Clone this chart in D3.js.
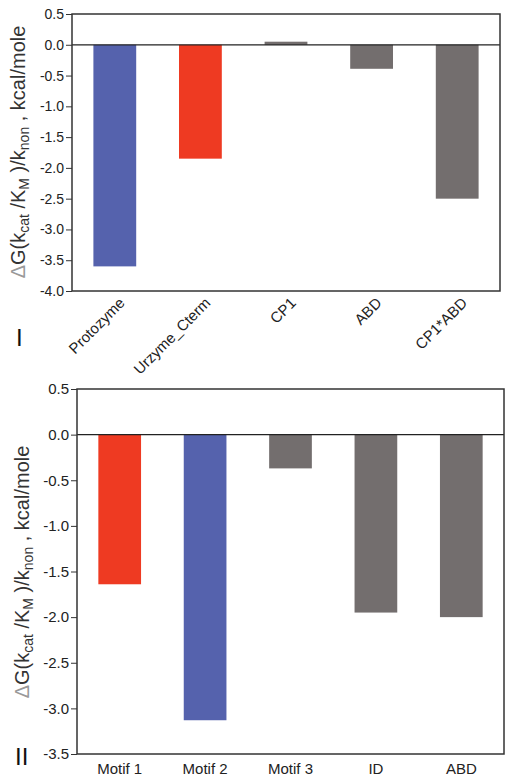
<!DOCTYPE html>
<html><head><meta charset="utf-8">
<script src="https://cdn.jsdelivr.net/npm/d3@7"></script>
<style>body{margin:0;background:#fff}svg{display:block}</style>
</head><body>
<script>
const categoriesA = ["Protozyme","Urzyme_Cterm","CP1","ABD","CP1*ABD"];
const valuesA = [-3.6,-1.85,0.05,-0.39,-2.5];
const colorsA = ["#5562ad","#ee3a22","#736e6e","#736e6e","#736e6e"];
const ticksA = [0.5,0.0,-0.5,-1.0,-1.5,-2.0,-2.5,-3.0,-3.5,-4.0];

const categoriesB = ["Motif 1","Motif 2","Motif 3","ID","ABD"];
const valuesB = [-1.64,-3.13,-0.37,-1.95,-2.0];
const colorsB = ["#ee3a22","#5562ad","#736e6e","#736e6e","#736e6e"];
const ticksB = [0.5,0.0,-0.5,-1.0,-1.5,-2.0,-2.5,-3.0,-3.5];

const svg = d3.select("body").append("svg").attr("width",512).attr("height",777)
  .style("font-family","Arial, 'Liberation Sans', sans-serif");

function panel(opt){
  const g = svg.append("g");
  const x = d3.scaleBand().domain(opt.cats).range([opt.left,opt.right]).paddingInner(0.5).paddingOuter(0.25);
  const y = d3.scaleLinear().domain([opt.ticks[opt.ticks.length-1], opt.ticks[0]]).range([opt.bottom,opt.top]);
  g.selectAll("rect.bar").data(opt.vals).join("rect")
    .attr("x",(d,i)=>x(opt.cats[i])).attr("width",x.bandwidth())
    .attr("y",d=>y(Math.max(0,d))).attr("height",d=>Math.abs(y(d)-y(0)))
    .attr("fill",(d,i)=>opt.colors[i]);
  g.append("line").attr("x1",opt.left).attr("x2",opt.right).attr("y1",y(0)).attr("y2",y(0))
    .attr("stroke","#222").attr("stroke-width",1.3);
  g.append("rect").attr("x",opt.left).attr("y",opt.top).attr("width",opt.right-opt.left).attr("height",opt.bottom-opt.top)
    .attr("fill","none").attr("stroke","#333").attr("stroke-width",1.5);
  const ya = g.append("g").attr("transform",`translate(${opt.left},0)`)
    .call(d3.axisLeft(y).tickValues(opt.ticks).tickFormat(d3.format(".1f")).tickSize(6).tickPadding(2));
  ya.select(".domain").remove();
  ya.selectAll("line").attr("stroke","#333").attr("stroke-width",1);
  ya.selectAll("text").attr("font-size",opt.tickFont).attr("fill","#222").attr("font-family","Arial, 'Liberation Sans', sans-serif")
    .text(d=>d3.format(".1f")(d).replace("−","-"));
  const xa = g.append("g");
  opt.cats.forEach((c,i)=>{
    const cx = x(c)+x.bandwidth()/2;
    if(opt.rotate){
      xa.append("text").attr("transform",`translate(${cx+3},${opt.bottom+5}) rotate(-45)`)
        .attr("text-anchor","end").attr("dy","0.75em").attr("font-size",15).attr("fill","#222").text(c);
    } else {
      xa.append("text").attr("x",cx).attr("y",opt.bottom+20).attr("text-anchor","middle")
        .attr("font-size",15).attr("fill","#222").text(c);
    }
  });
  const t = g.append("text").attr("transform",`translate(${opt.titleX},${opt.titleY}) rotate(-90)`)
    .attr("text-anchor","middle").attr("font-size",20).attr("fill","#333");
  t.append("tspan").attr("fill","#999").text("Δ");
  t.append("tspan").text("G(k");
  t.append("tspan").attr("font-size",14).attr("dy",4).text("cat");
  t.append("tspan").attr("dy",-4).text(" /K");
  t.append("tspan").attr("font-size",14).attr("dy",4).text("M");
  t.append("tspan").attr("dy",-4).text(" )/k");
  t.append("tspan").attr("font-size",14).attr("dy",4).text("non");
  t.append("tspan").attr("dy",-4).text(" ,  kcal/mole");
  g.append("text").attr("x",opt.numX).attr("y",opt.numY).attr("font-size",24).attr("fill","#111").text(opt.num);
}

panel({cats:categoriesA, vals:valuesA, colors:colorsA, ticks:ticksA,
  left:72, right:500, top:14, bottom:291, rotate:true, tickFont:14,
  titleX:25, titleY:152, num:"I", numX:16, numY:346});
panel({cats:categoriesB, vals:valuesB, colors:colorsB, ticks:ticksB,
  left:77, right:504, top:389, bottom:754, rotate:false, tickFont:15,
  titleX:29, titleY:572, num:"II", numX:15, numY:765});
</script>
</body></html>
